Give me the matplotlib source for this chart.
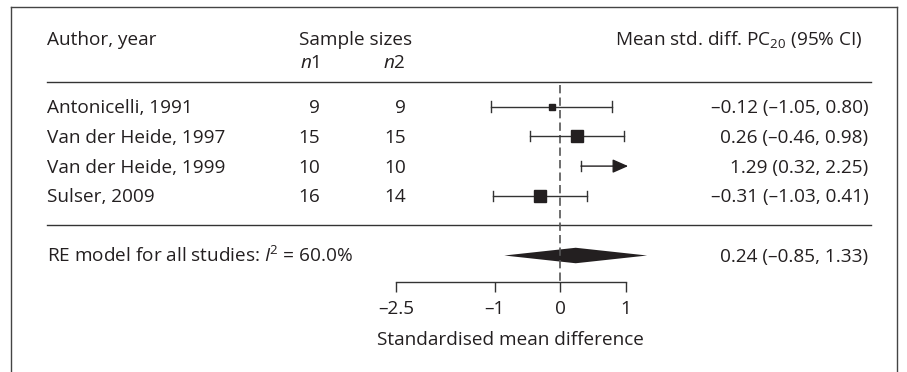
import matplotlib
matplotlib.use("Agg")
import matplotlib.pyplot as plt
from matplotlib.lines import Line2D
from matplotlib.patches import Polygon

studies = ["Antonicelli, 1991", "Van der Heide, 1997", "Van der Heide, 1999", "Sulser, 2009"]
n1 = [9, 15, 10, 16]
n2 = [9, 15, 10, 14]
est = [-0.12, 0.26, 1.29, -0.31]
ci_lo = [-1.05, -0.46, 0.32, -1.03]
ci_hi = [0.80, 0.98, 2.25, 0.41]
box_size = [5.0, 9.2, 9.2, 9.2]

re_label = "RE model for all studies: $I$$^2$ = 60.0%"
re_est, re_lo, re_hi = 0.24, -0.85, 1.33

xticks = [-2.5, -1, 0, 1]
x_clip = 1.04

ink = "#231f20"
line_c = "#333333"


def dash(v):
    return f"{v:.2f}".replace("-", "\u2013")


def fmt(e, l, h):
    return f"{dash(e)} ({dash(l)}, {dash(h)})"


plt.rcParams["font.family"] = ["Open Sans", "DejaVu Sans"]
plt.rcParams["font.size"] = 13.7
plt.rcParams["mathtext.fontset"] = "custom"
plt.rcParams["mathtext.rm"] = "Open Sans"
plt.rcParams["mathtext.it"] = "Open Sans:italic"
plt.rcParams["text.color"] = ink

fig = plt.figure(figsize=(9.07, 3.72), dpi=100)
ax = fig.add_axes([0, 90 / 372, 1, 282 / 372])
ax.set_xlim(-560 / 65.5, 347 / 65.5)
ax.set_ylim(5.889, -3.574)

for s in ["top", "left", "right"]:
    ax.spines[s].set_visible(False)
ax.spines["bottom"].set_bounds(xticks[0], xticks[-1])
ax.spines["bottom"].set_color(line_c)
ax.spines["bottom"].set_linewidth(1.0)
ax.set_yticks([])
ax.set_xticks(xticks, [str(t).replace("-", "\u2013") for t in xticks])
ax.tick_params(axis="x", direction="out", length=7.2, width=1.0, color=line_c,
               pad=6, labelsize=13.7, labelcolor=ink)
ax.text(sum([xticks[0], xticks[-1]]) / 2, 8.0, "Standardised mean difference",
        ha="center", va="baseline")

tr = ax.get_yaxis_transform()
base = 0.22

# header
ax.text(47 / 907, -2.06, "Author, year", transform=tr, ha="left", va="baseline")
ax.text(355.5 / 907, -2.06, "Sample sizes", transform=tr, ha="center", va="baseline")
ax.text(320 / 907, -1.28, "$n$1", transform=tr, ha="right", va="baseline")
ax.text(406 / 907, -1.28, "$n$2", transform=tr, ha="right", va="baseline")
ax.text(863 / 907, -2.06, "Mean std. diff. PC$_{20}$ (95% CI)", transform=tr,
        ha="right", va="baseline")

# rules
for yy in [-0.82, 3.98]:
    ax.plot([47 / 907, 871 / 907], [yy, yy], transform=tr, color=line_c, lw=1.0,
            clip_on=False)

# null line
ax.plot([0, 0], [-0.72, 5.889], color="#555555", lw=1.2, dashes=(5, 2.5))

for i, name in enumerate(studies):
    y = i
    ax.text(47 / 907, y + base, name, transform=tr, ha="left", va="baseline")
    ax.text(320 / 907, y + base, str(n1[i]), transform=tr, ha="right", va="baseline")
    ax.text(406 / 907, y + base, str(n2[i]), transform=tr, ha="right", va="baseline")
    ax.text(868.5 / 907, y + base, fmt(est[i], ci_lo[i], ci_hi[i]), transform=tr,
            ha="right", va="baseline")
    if ci_hi[i] > x_clip:
        ax.plot([ci_lo[i], ci_lo[i]], [y - 0.17, y + 0.17], color=line_c, lw=1.0)
        ax.annotate("", xy=(x_clip, y), xytext=(ci_lo[i], y),
                    arrowprops=dict(arrowstyle="-|>,head_length=0.95,head_width=0.42",
                                    mutation_scale=10, color=ink, lw=1.0,
                                    shrinkA=0, shrinkB=0))
    else:
        ax.plot([ci_lo[i], ci_hi[i]], [y, y], color=line_c, lw=1.0)
        for xe in [ci_lo[i], ci_hi[i]]:
            ax.plot([xe, xe], [y - 0.17, y + 0.17], color=line_c, lw=1.0)
    if est[i] <= x_clip:
        ax.plot(est[i], y, marker="s", markersize=box_size[i], color=ink, mec=ink)

# summary
y_re = 5.0
ax.text(47 / 907, y_re + base, re_label, transform=tr, ha="left", va="baseline")
ax.text(868.5 / 907, y_re + base, fmt(re_est, re_lo, re_hi), transform=tr,
        ha="right", va="baseline")
ax.add_patch(Polygon([(re_lo, y_re), (re_est, y_re - 0.26), (re_hi, y_re),
                      (re_est, y_re + 0.26)], closed=True, color=ink, lw=0))

# frame
fx0, fx1, fy1 = 10.5 / 907, 897 / 907, 1 - 7 / 372
for xs, ys in [([fx0, fx0], [0, fy1]), ([fx0, fx1], [fy1, fy1]), ([fx1, fx1], [fy1, 0])]:
    fig.add_artist(Line2D(xs, ys, transform=fig.transFigure, color="#444444", lw=1.0))

fig.savefig("out.png", dpi=100)
